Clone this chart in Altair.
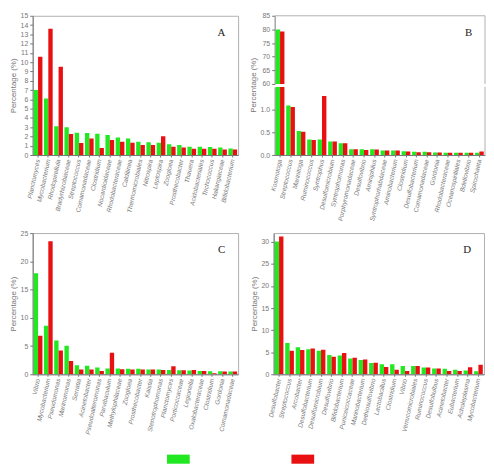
import altair as alt
import pandas as pd

series_names = ["Sample 1", "Sample 2"]
series_colors = ["#22e822", "#e81010"]

a_taxa = ["Planctomyces", "Mycobacterium", "Rhodopirellula", "Bradyrhizobiaceae", "Streptococcus",
          "Comamonadaceae", "Clostridium", "Nocardioidaceae", "Rhodobacteraceae", "Caldilinea",
          "Thermomicrobiales", "Nitrospira", "Leptospira", "Zoogloea", "Prosthecobacter",
          "Thauera", "Acidobacteriales", "Trichococcus", "Haliangiaceae", "Bifidobacterium"]
a_green = [7.0, 6.1, 3.1, 3.0, 2.4, 2.37, 2.3, 2.17, 1.9, 1.77, 1.43, 1.37, 1.33, 1.17, 1.07, 0.9, 0.9, 0.87, 0.8, 0.7]
a_red = [10.6, 13.6, 9.5, 2.27, 1.3, 1.77, 0.77, 1.63, 1.43, 1.33, 1.07, 1.07, 2.03, 0.9, 0.8, 0.67, 0.67, 0.67, 0.6, 0.6]

b_taxa = ["Kosmotoga", "Streptococcus", "Marinitoga", "Ruminococcus", "Syntrophus",
          "Desulfomicrobium", "Syntrophomonas", "Porphyromonadaceae", "Desulfovibrio", "Aminiphilus",
          "Syntrophorhabdaceae", "Aminobacterium", "Clostridium", "Desulfobacterium", "Comamonadaceae",
          "Gordonia", "Rhodobacteraceae", "Oceanospirillales", "Bdellovibrio", "Spirochaeta"]
b_green = [80.0, 1.09, 0.53, 0.34, 0.34, 0.30, 0.26, 0.13, 0.13, 0.13, 0.10, 0.10, 0.083, 0.07, 0.07, 0.055, 0.05, 0.05, 0.05, 0.05]
b_red = [79.2, 1.06, 0.51, 0.33, 1.30, 0.30, 0.26, 0.13, 0.11, 0.12, 0.10, 0.10, 0.08, 0.06, 0.06, 0.055, 0.05, 0.05, 0.05, 0.08]

c_taxa = ["Vibrio", "Mycobacterium", "Pseudomonas", "Marinomonas", "Serratia",
          "Acinetobacter", "Pseudoalteromonas", "Parvibaculum", "Methylophilaceae", "Zoogloea",
          "Prosthecobacter", "Kaistia", "Stenotrophomonas", "Planctomyces", "Porticoccaceae",
          "Legionella", "Oxalobacteraceae", "Clostridium", "Gordonia", "Comamonadaceae"]
c_green = [17.9, 8.6, 6.0, 5.05, 1.6, 1.5, 1.18, 1.02, 1.02, 0.97, 0.97, 0.86, 0.86, 0.75, 0.7, 0.65, 0.6, 0.54, 0.54, 0.48]
c_red = [6.8, 23.55, 4.19, 2.37, 0.86, 0.86, 0.6, 3.82, 0.91, 0.86, 0.86, 0.86, 0.75, 1.4, 0.7, 0.75, 0.6, 0.2, 0.48, 0.48]

d_taxa = ["Desulfobacter", "Streptococcus", "Arcobacter", "Desulfobacterium", "Desulfomicrobium",
          "Desulfovibrio", "Bifidobacterium", "Puniceicoccaceae", "Marinobacterium", "Dethiosulfovibrio",
          "Lactobacillus", "Clostridium", "Vibrio", "Verrucomicrobiales", "Ruminococcus",
          "Desulfobulbus", "Acinetobacter", "Eubacterium", "Acholeplasma", "Mycobacterium"]
d_green = [30.1, 7.08, 6.1, 5.7, 5.35, 4.38, 4.24, 3.6, 3.26, 2.57, 2.3, 2.3, 1.88, 1.88, 1.53, 1.32, 1.25, 1.04, 0.83, 0.7]
d_red = [31.2, 5.35, 5.5, 5.83, 5.55, 3.96, 4.8, 3.75, 3.33, 2.64, 1.67, 1.04, 0.76, 1.88, 1.53, 1.32, 0.76, 0.76, 1.6, 2.15]

a_ticks = list(range(0, 16))
b_up_ticks = [60, 65, 70, 75, 80, 85]
b_low_ticks = [0.0, 0.5, 1.0]
c_ticks = [0, 5, 10, 15, 20, 25]
d_ticks = [0, 5, 10, 15, 20, 25, 30]

FONT = "Liberation Sans"
GRAY = "#777777"
FRAME = "#b0b0b0"
W = 208
WB = 213

legend = alt.Legend(
    title=None, orient="none", direction="horizontal", legendX=136, legendY=437,
    labelExpr="''", labelFontSize=1, labelOffset=0, columnPadding=103,
    symbolType="M-1,-0.4H1V0.4H-1Z", symbolSize=529, symbolStrokeWidth=0, symbolOpacity=1,
)


def frame(taxa, green, red):
    rows = []
    for t, g, r in zip(taxa, green, red):
        rows.append({"taxon": t, "series": series_names[0], "value": g})
        rows.append({"taxon": t, "series": series_names[1], "value": r})
    return pd.DataFrame(rows)


def x_enc(taxa, show):
    if show:
        axis = alt.Axis(labelAngle=-78, labelFontStyle="italic", labelFontSize=6.5, labelColor=GRAY,
                        labelFont=FONT, tickSize=2, tickColor=GRAY, domainColor=GRAY,
                        labelPadding=2, title=None, labelOverlap=False)
    else:
        axis = None
    return alt.X("taxon:N", sort=taxa, title=None, axis=axis,
                 scale=alt.Scale(paddingInner=0.15, paddingOuter=0.1))


def y_enc(domain, ticks, fmt, title, title_y=None):
    kw = dict(values=ticks, format=fmt, labelFontSize=7, labelColor=GRAY, labelFont=FONT,
              tickSize=3, tickColor=GRAY, domainColor=GRAY, grid=False, labelPadding=2,
              titleFontSize=8, titleFont=FONT, titleFontWeight="normal", titleColor=GRAY,
              titlePadding=3)
    if title:
        kw["title"] = "Percentage (%)"
        if title_y is not None:
            kw["titleY"] = title_y
    else:
        kw["title"] = None
    return alt.Y("value:Q", axis=alt.Axis(**kw),
                 scale=alt.Scale(domain=domain, nice=False, zero=False))


def bars(taxa, green, red, domain, ticks, fmt, width, height, show_x=True, title=True, title_y=None):
    df = frame(taxa, green, red)
    return alt.Chart(df).mark_bar(clip=True).encode(
        x=x_enc(taxa, show_x),
        xOffset=alt.XOffset("series:N", sort=series_names),
        y=y_enc(domain, ticks, fmt, title, title_y),
        color=alt.Color("series:N", scale=alt.Scale(domain=series_names, range=series_colors),
                        legend=legend),
    ).properties(width=width, height=height)


def letter(ch, width):
    return alt.Chart(pd.DataFrame({"label": [ch]})).mark_text(
        font="Liberation Serif", fontSize=11, align="right", baseline="alphabetic", color="#222"
    ).encode(x=alt.value(width - 13), y=alt.value(20), text="label:N")


H1 = 141
panel_a = alt.layer(bars(a_taxa, a_green, a_red, [0, 15], a_ticks, "d", W, H1), letter("A", W))

BH_UP = 69
BH_LOW = 69
b_up = alt.layer(
    bars(b_taxa, b_green, b_red, [60, 85], b_up_ticks, "d", WB, BH_UP, show_x=False, title=False),
    letter("B", WB),
    alt.Chart(pd.DataFrame({"k": [0]})).mark_rule(color=FRAME).encode(
        x=alt.value(0), x2=alt.value(WB), y=alt.value(0)),
    alt.Chart(pd.DataFrame({"k": [0]})).mark_rule(color=FRAME).encode(
        x=alt.value(WB), y=alt.value(0), y2=alt.value(BH_UP)),
).properties(view=alt.ViewBackground(stroke=None))
b_low = alt.layer(
    bars(b_taxa, b_green, b_red, [0, 1.5], b_low_ticks, ".1f", WB, BH_LOW, title=True, title_y=-2),
    alt.Chart(pd.DataFrame({"k": [0]})).mark_rule(color=FRAME).encode(
        x=alt.value(WB), y=alt.value(0), y2=alt.value(BH_LOW)),
).properties(view=alt.ViewBackground(stroke=None))
panel_b = alt.vconcat(b_up, b_low, spacing=3, bounds="flush")

H2 = 143
panel_c = alt.layer(bars(c_taxa, c_green, c_red, [0, 25], c_ticks, "d", W, H2), letter("C", W))
panel_d = alt.layer(bars(d_taxa, d_green, d_red, [0, 32], d_ticks, "d", WB, H2), letter("D", WB))

row1 = alt.hconcat(panel_a, panel_b, spacing=10)
row2 = alt.hconcat(panel_c, panel_d, spacing=10)

chart = alt.vconcat(row1, row2, spacing=6).properties(
    padding={"left": 0, "top": 0, "right": 0, "bottom": 0}
).configure_view(stroke=FRAME, strokeWidth=1)

chart.save("out.html", embed_options={"renderer": "svg", "actions": False})
